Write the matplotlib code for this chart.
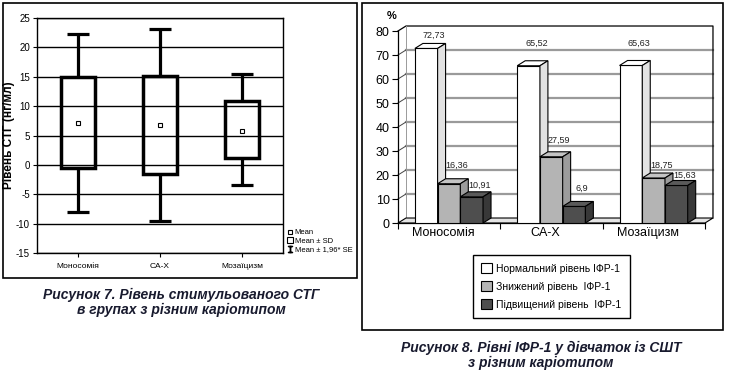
import matplotlib
matplotlib.use("Agg")
import matplotlib.pyplot as plt
from matplotlib.patches import Rectangle, Polygon, Patch
from matplotlib.lines import Line2D

plt.rcParams["font.family"] = ["Liberation Sans", "DejaVu Sans"]
plt.rcParams["axes.unicode_minus"] = False

W, H = 732, 384

# Figure 7: stimulated STH by karyotype
stg_groups = ["Моносомія", "CA-X", "Мозаїцизм"]
stg_mean = [7.2, 6.8, 5.8]
stg_sd_low = [-0.5, -1.5, 1.1]
stg_sd_high = [15.0, 15.2, 10.9]
stg_err_low = [-8.0, -9.5, -3.5]
stg_err_high = [22.3, 23.2, 15.5]

# Figure 8: IGF-1 levels, %
ifr_groups = ["Моносомія", "CA-X", "Мозаїцизм"]
ifr_normal = [72.73, 65.52, 65.63]
ifr_low = [16.36, 27.59, 18.75]
ifr_high = [10.91, 6.9, 15.63]
ifr_series_names = [
    "Нормальний рівень ІФР-1",
    "Знижений рівень  ІФР-1",
    "Підвищений рівень  ІФР-1",
]

CAPTION_COLOR = "#181a2e"


def px_box(left, top, right, bottom):
    return [left / W, 1 - bottom / H, (right - left) / W, (bottom - top) / H]


def draw_stg(fig):
    ax = fig.add_axes(px_box(37, 18, 283, 253))
    pos = [1, 2, 3]

    ax.set_xlim(0.5, 3.5)
    ax.set_ylim(-15, 25)
    ax.set_yticks(range(-15, 26, 5))
    ax.set_xticks(pos)
    ax.set_xticklabels(stg_groups, fontsize=6)
    ax.tick_params(axis="y", labelsize=7, length=3, width=0.8, pad=2)
    ax.tick_params(axis="x", length=3, width=0.8, pad=4)
    ax.grid(axis="y", color="black", linewidth=1.0)
    ax.set_axisbelow(True)
    for s in ax.spines.values():
        s.set_linewidth(1.0)

    # whiskers outside the SD box
    ax.vlines(pos, stg_err_low, stg_sd_low, color="black", linewidth=2.3, zorder=3)
    ax.vlines(pos, stg_sd_high, stg_err_high, color="black", linewidth=2.3, zorder=3)
    ax.hlines(stg_err_low, [p - 0.135 for p in pos], [p + 0.135 for p in pos],
              color="black", linewidth=2.3, zorder=3)
    ax.hlines(stg_err_high, [p - 0.135 for p in pos], [p + 0.135 for p in pos],
              color="black", linewidth=2.3, zorder=3)

    heights = [h - l for h, l in zip(stg_sd_high, stg_sd_low)]
    ax.bar(pos, heights, bottom=stg_sd_low, width=0.42, fill=False,
           edgecolor="black", linewidth=2.5, zorder=4)
    ax.plot(pos, stg_mean, linestyle="none", marker="s", markersize=3,
            markerfacecolor="white", markeredgecolor="black",
            markeredgewidth=0.8, zorder=5)

    ax.set_ylabel("Рівень СТГ (нг/мл)", fontsize=8.5, fontweight="bold")
    ax.yaxis.set_label_coords(-(37 - 15) / 246, 0.5)

    handles = [
        Line2D([], [], linestyle="none", marker="s", markersize=2.5,
               markerfacecolor="white", markeredgecolor="black", markeredgewidth=0.8),
        Line2D([], [], linestyle="none", marker="s", markersize=5,
               markerfacecolor="white", markeredgecolor="black", markeredgewidth=0.8),
        Line2D([], [], linestyle="none", marker="$\\mathtt{I}$", markersize=5,
               color="black"),
    ]
    fig.legend(handles, ["Mean", "Mean ± SD", "Mean ± 1,96* SE"],
               loc="upper left", bbox_to_anchor=(287 / W, 1 - 229 / H),
               fontsize=5.5, frameon=False, handlelength=0.7,
               handletextpad=0.3, labelspacing=0.15, borderpad=0,
               borderaxespad=0)


def draw_ifr(fig):
    ax = fig.add_axes(px_box(398, 31, 705, 223))
    ax.set_xlim(0, 3)
    ax.set_ylim(0, 80)

    dx, dy = 0.078, 2.08

    # back wall, side wall and floor
    for v in range(10, 80, 10):
        ax.plot([dx, 3 + dx], [v + dy, v + dy], color="#9a9a9a",
                linewidth=1.6, zorder=1, clip_on=False)
        ax.plot([0, dx], [v, v + dy], color="#444444", linewidth=0.7,
                zorder=1, clip_on=False)
    ax.plot([0, dx, 3 + dx, 3 + dx], [80, 80 + dy, 80 + dy, dy],
            color="black", linewidth=0.9, zorder=1, clip_on=False)
    ax.plot([dx, dx], [dy, 80 + dy], color="#9a9a9a", linewidth=0.7,
            zorder=1, clip_on=False)
    ax.add_patch(Polygon([(0, 0), (3, 0), (3 + dx, dy), (dx, dy)],
                         closed=True, facecolor="#e4e4e4", edgecolor="black",
                         linewidth=0.8, zorder=2, clip_on=False))

    series = [ifr_normal, ifr_low, ifr_high]
    faces = [("white", "white", "#e2e2e2"),
             ("#b4b4b4", "#c4c4c4", "#9c9c9c"),
             ("#4e4e4e", "#5a5a5a", "#383838")]
    offsets = [0.165, 0.387, 0.609]
    width = 0.222
    label_lift = [[3.3, 7.1, 7.1], [5.8, 4.6, 3.3], [2.9, 5.4, 2.3]]

    for j, vals in enumerate(series):
        front, top, side = faces[j]
        xs = [i + offsets[j] for i in range(len(vals))]
        z = 3 + j
        ax.bar(xs, vals, width=width, align="edge", color=front,
               edgecolor="black", linewidth=0.8, zorder=z)
        for i, (x0, v) in enumerate(zip(xs, vals)):
            x1 = x0 + width
            ax.add_patch(Polygon([(x0, v), (x1, v), (x1 + dx, v + dy), (x0 + dx, v + dy)],
                                 closed=True, facecolor=top, edgecolor="black",
                                 linewidth=0.8, zorder=z, clip_on=False))
            ax.add_patch(Polygon([(x1, 0), (x1 + dx, dy), (x1 + dx, v + dy), (x1, v)],
                                 closed=True, facecolor=side, edgecolor="black",
                                 linewidth=0.8, zorder=z, clip_on=False))
            ax.text(x0 + width / 2 + dx, v + dy + label_lift[j][i],
                    f"{v:g}".replace(".", ","), ha="center", va="center",
                    fontsize=6.5, color="#222222", zorder=10)

    for s in ["top", "right"]:
        ax.spines[s].set_visible(False)
    ax.spines["left"].set_linewidth(0.9)
    ax.spines["bottom"].set_linewidth(0.9)
    ax.spines["bottom"].set_zorder(2.5)

    ax.set_yticks(range(0, 81, 10))
    ax.tick_params(axis="y", labelsize=9, length=4, width=0.8, pad=2)
    ax.set_xticks([0, 1, 2, 3])
    ax.set_xticklabels([])
    ax.set_xticks([i + 0.44 for i in range(3)], minor=True)
    ax.set_xticklabels(ifr_groups, minor=True, fontsize=9)
    ax.tick_params(axis="x", which="major", length=4, width=0.8)
    ax.tick_params(axis="x", which="minor", length=0, pad=3)

    fig.text(392 / W, 1 - 16 / H, "%", ha="center", va="center",
             fontsize=8, fontweight="bold")

    handles = [Patch(facecolor=c[0], edgecolor="black", linewidth=0.8) for c in faces]
    leg = fig.legend(handles, ifr_series_names, loc="center",
                     bbox_to_anchor=(551.5 / W, 1 - 286.5 / H), fontsize=7.5,
                     frameon=True, fancybox=False, edgecolor="black",
                     framealpha=1, handlelength=1.0, handleheight=1.0,
                     handletextpad=0.45, labelspacing=0.75, borderpad=0.8)
    leg.get_frame().set_linewidth(1.0)


fig = plt.figure(figsize=(W / 100, H / 100), dpi=100)

# panel frames
fig.patches.append(Rectangle((3 / W, 1 - 278 / H), 354 / W, 275 / H,
                             transform=fig.transFigure, fill=False,
                             edgecolor="black", linewidth=1.2))
fig.patches.append(Rectangle((362 / W, 1 - 330 / H), 361 / W, 327 / H,
                             transform=fig.transFigure, fill=False,
                             edgecolor="black", linewidth=1.2))

draw_stg(fig)
draw_ifr(fig)

cap = dict(ha="center", va="center", fontsize=10, fontweight="bold",
           fontstyle="italic", color=CAPTION_COLOR)
fig.text(181 / W, 1 - 295 / H, "Рисунок 7. Рівень стимульованого СТГ", **cap)
fig.text(181 / W, 1 - 310 / H, "в групах з різним каріотипом", **cap)
fig.text(541 / W, 1 - 348 / H, "Рисунок 8. Рівні ІФР-1 у дівчаток із СШТ", **cap)
fig.text(541 / W, 1 - 363 / H, "з різним каріотипом", **cap)

fig.savefig("out.png", dpi=100)
plt.close(fig)
